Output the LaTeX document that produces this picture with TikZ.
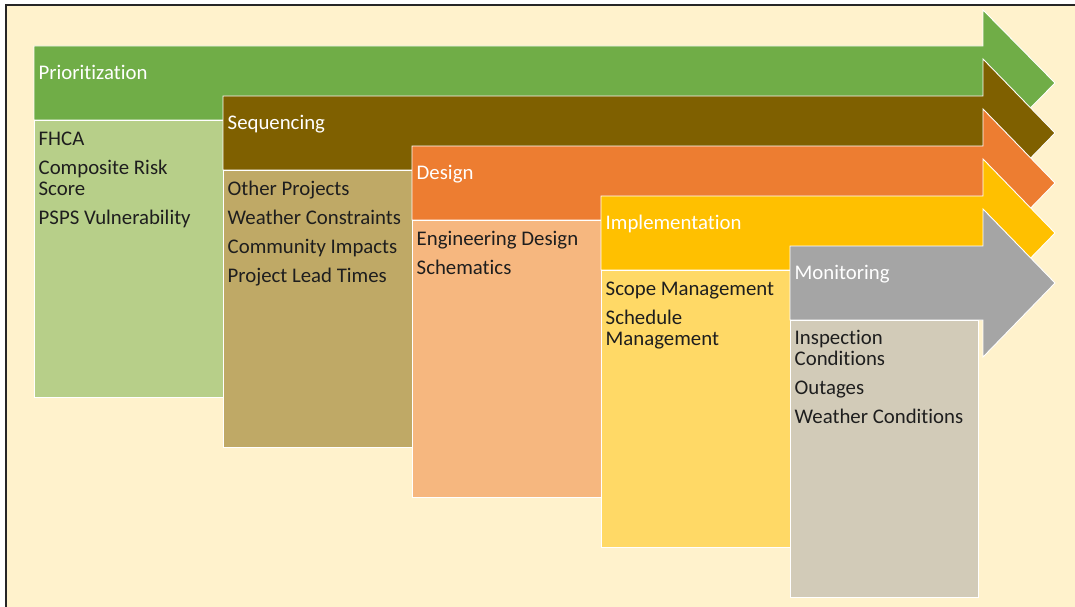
\documentclass[tikz,border=0pt]{standalone}
\usepackage{fontspec}
\setmainfont{Carlito}[Ligatures={NoCommon}]
\definecolor{cream}{HTML}{FFF2CC}
\definecolor{cgreen}{HTML}{70AD47}
\definecolor{cbrown}{HTML}{7F6000}
\definecolor{corange}{HTML}{ED7D31}
\definecolor{cyellow}{HTML}{FFC000}
\definecolor{cgray}{HTML}{A5A5A5}
\definecolor{ink}{HTML}{1E1E1E}
\begin{document}
\begin{tikzpicture}[x=1pt,y=-1pt,
  stagearrow/.style={draw=white,line width=0.9pt,line join=miter},
  infobox/.style={draw=white,line width=0.9pt,anchor=north west,inner sep=0pt,
    minimum width=189pt,minimum height=277pt},
  headtext/.style={text=white,anchor=base west,inner sep=0pt,
    font=\fontsize{20.8}{21}\selectfont},
  bodytext/.style={text=ink,anchor=north west,inner sep=0pt,align=left,
    font=\fontsize{20.8}{20.7}\selectfont}]
\useasboundingbox (0,0) rectangle (1075,607);
\fill[white] (0,0) rectangle (1075,607);
\fill[cream] (6,5) rectangle (1075,607);
\draw[line width=1.3pt, black!85] (6,615) -- (6,5) -- (1085,5);

% Stage 1: Prioritization
\path[fill=cgreen, stagearrow] (34,46) -- (983,46) -- (983,10) -- (1055,83) -- (983,156) -- (983,120) -- (34,120) -- cycle;
\node[infobox, fill=cgreen!50!cream] (b1) at (34,120) {};
\node[headtext] (h1) at (38.5,79.5) {Prioritization};
\node[bodytext] (t1) at (38.5,129.5) {\rule{0pt}{16pt}FHCA\\[8.3pt]Composite Risk\\Score\\[8.3pt]PSPS Vulnerability};

% Stage 2: Sequencing
\path[fill=cbrown, stagearrow] (223,96) -- (983,96) -- (983,59) -- (1055,133) -- (983,207) -- (983,170) -- (223,170) -- cycle;
\node[infobox, fill=cbrown!50!cream] (b2) at (223,170) {};
\node[headtext] (h2) at (227.5,129.5) {Sequencing};
\node[bodytext] (t2) at (227.5,179.5) {\rule{0pt}{16pt}Other Projects\\[8.3pt]Weather Constraints\\[8.3pt]Community Impacts\\[8.3pt]Project Lead Times};

% Stage 3: Design
\path[fill=corange, stagearrow] (412,146) -- (983,146) -- (983,109) -- (1055,183) -- (983,257) -- (983,220) -- (412,220) -- cycle;
\node[infobox, fill=corange!50!cream] (b3) at (412,220) {};
\node[headtext] (h3) at (416.5,179.5) {Design};
\node[bodytext] (t3) at (416.5,229.5) {\rule{0pt}{16pt}Engineering Design\\[8.3pt]Schematics};

% Stage 4: Implementation
\path[fill=cyellow, stagearrow] (601,196) -- (983,196) -- (983,159) -- (1055,233) -- (983,307) -- (983,270) -- (601,270) -- cycle;
\node[infobox, fill=cyellow!50!cream] (b4) at (601,270) {};
\node[headtext] (h4) at (605.5,229.5) {Implementation};
\node[bodytext] (t4) at (605.5,279.5) {\rule{0pt}{16pt}Scope Management\\[8.3pt]Schedule\\Management};

% Stage 5: Monitoring
\path[fill=cgray, stagearrow] (790,246) -- (983,246) -- (983,209) -- (1055,283) -- (983,357) -- (983,320) -- (790,320) -- cycle;
\node[infobox, fill=cgray!50!cream, minimum width=188pt] (b5) at (790,320) {};
\node[headtext] (h5) at (794.5,279.5) {Monitoring};
\node[bodytext] (t5) at (794.5,328.5) {\rule{0pt}{16pt}Inspection\\Conditions\\[8.3pt]Outages\\[8.3pt]Weather Conditions};
\end{tikzpicture}
\end{document}
